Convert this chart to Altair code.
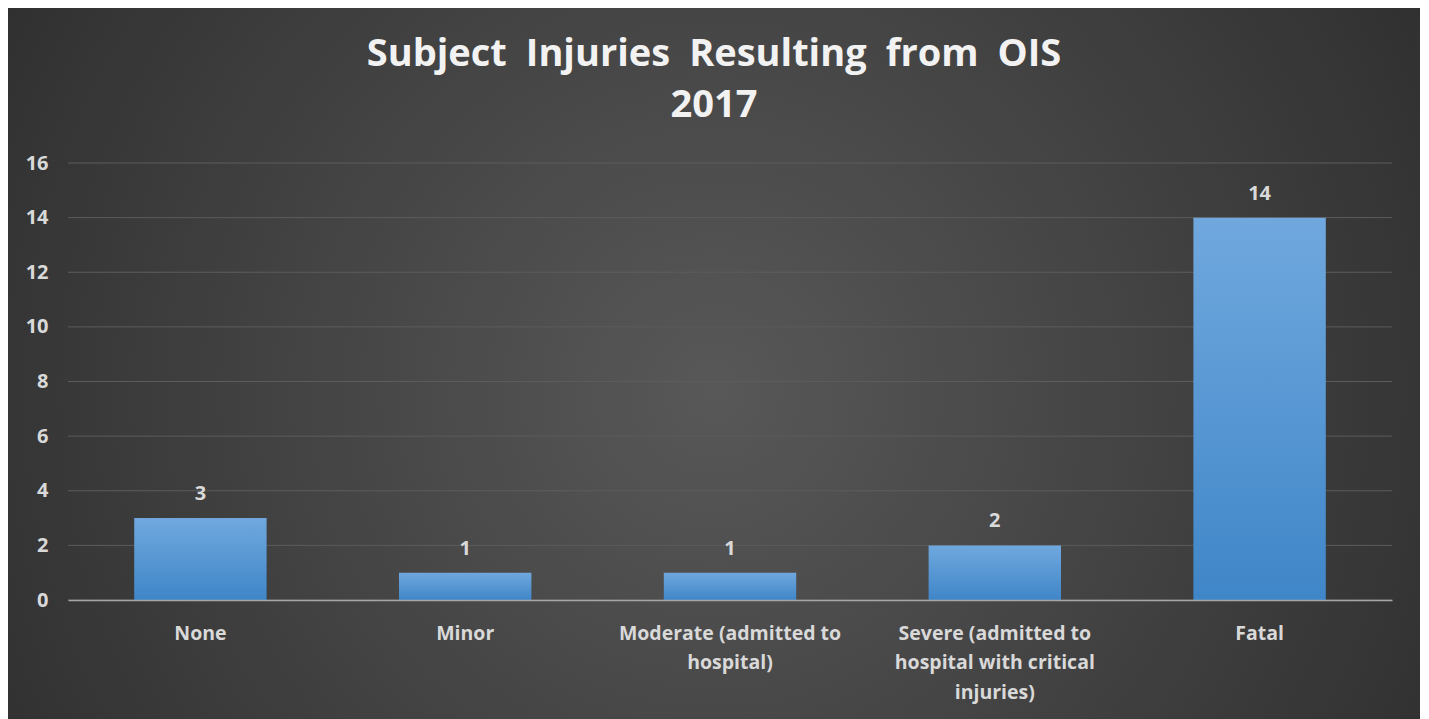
import altair as alt
import pandas as pd
import json

categories = ["None", "Minor", "Moderate (admitted to hospital)",
              "Severe (admitted to hospital with critical injuries)", "Fatal"]
values = [3, 1, 1, 2, 14]
wrapped = [["None"], ["Minor"], ["Moderate (admitted to", "hospital)"],
           ["Severe (admitted to", "hospital with critical", "injuries)"], ["Fatal"]]
y_ticks = [0, 2, 4, 6, 8, 10, 12, 14, 16]
title_lines = ["Subject\u2002Injuries\u2002Resulting\u2002from\u2002OIS", "2017"]

df = pd.DataFrame({"category": categories, "value": values})

W, H = 1324, 437
PAD = {"left": 60, "top": 155, "right": 28, "bottom": 119}

label_expr = "datum.label"
for c, w in zip(reversed(categories), reversed(wrapped)):
    label_expr = f"datum.label == {json.dumps(c)} ? {json.dumps(w)} : ({label_expr})"

FONT = "Open Sans"
TXT = "#d9d9d9"

bg = alt.Chart(pd.DataFrame({"k": [0]})).mark_rect(
    color={"gradient": "radial", "x1": 0.5, "y1": 0.52, "r1": 0,
           "x2": 0.5, "y2": 0.52, "r2": 0.72,
           "stops": [{"offset": 0, "color": "#585858"},
                     {"offset": 1, "color": "#262626"}]}
).encode(
    x=alt.value(-PAD["left"]), x2=alt.value(W + PAD["right"]),
    y=alt.value(-PAD["top"] - 3), y2=alt.value(H + PAD["bottom"])
)

x_enc = alt.X("category:N", sort=categories, title=None,
              scale=alt.Scale(paddingInner=0.5, paddingOuter=0.25),
              axis=alt.Axis(labelExpr=label_expr, labelAngle=0, labelFont=FONT,
                            labelFontSize=19.5, labelFontWeight="bold", labelColor=TXT,
                            labelLineHeight=29.5, labelPadding=24, ticks=False,
                            labelLimit=400,
                            domainColor="#a6a6a6", domainWidth=1.5, grid=False,
                            labelBaseline="top", zindex=1))
y_enc = alt.Y("value:Q", title=None,
              scale=alt.Scale(domain=[0, 16], nice=False),
              axis=alt.Axis(values=y_ticks, labelFont=FONT, labelFontSize=20,
                            labelFontWeight="bold", labelColor=TXT, labelPadding=20,
                            ticks=False, domain=False, grid=False, zindex=1))

bars = alt.Chart(df).mark_bar(
    color={"gradient": "linear", "x1": 0, "y1": 0, "x2": 0, "y2": 1,
           "stops": [{"offset": 0, "color": "#70a8de"},
                     {"offset": 1, "color": "#3f86c8"}]}
).encode(x=x_enc, y=y_enc)

grid = alt.Chart(pd.DataFrame({"t": y_ticks})).mark_rule(
    color="#5c5c5c", strokeWidth=1
).encode(y=alt.Y("t:Q", scale=alt.Scale(domain=[0, 16], nice=False)),
         x=alt.value(0), x2=alt.value(W))

labels = alt.Chart(df).mark_text(
    font=FONT, fontSize=20, fontWeight="bold", color=TXT, baseline="middle", dy=-24
).encode(x=alt.X("category:N", sort=categories), y="value:Q", text="value:Q")

chart = alt.layer(bg, grid, bars, labels).properties(
    width=W, height=H,
    padding=PAD,
    autosize=alt.AutoSizeParams(type="none"),
    title=alt.TitleParams(title_lines, font=FONT, fontSize=38, fontWeight="bold",
                          color="#f2f2f2", lineHeight=51, anchor="middle",
                          offset=36, dy=156, dx=-16),
).configure(background="white").configure_view(stroke=None)

chart.save("out.html", embed_options={"renderer": "svg", "actions": False})
